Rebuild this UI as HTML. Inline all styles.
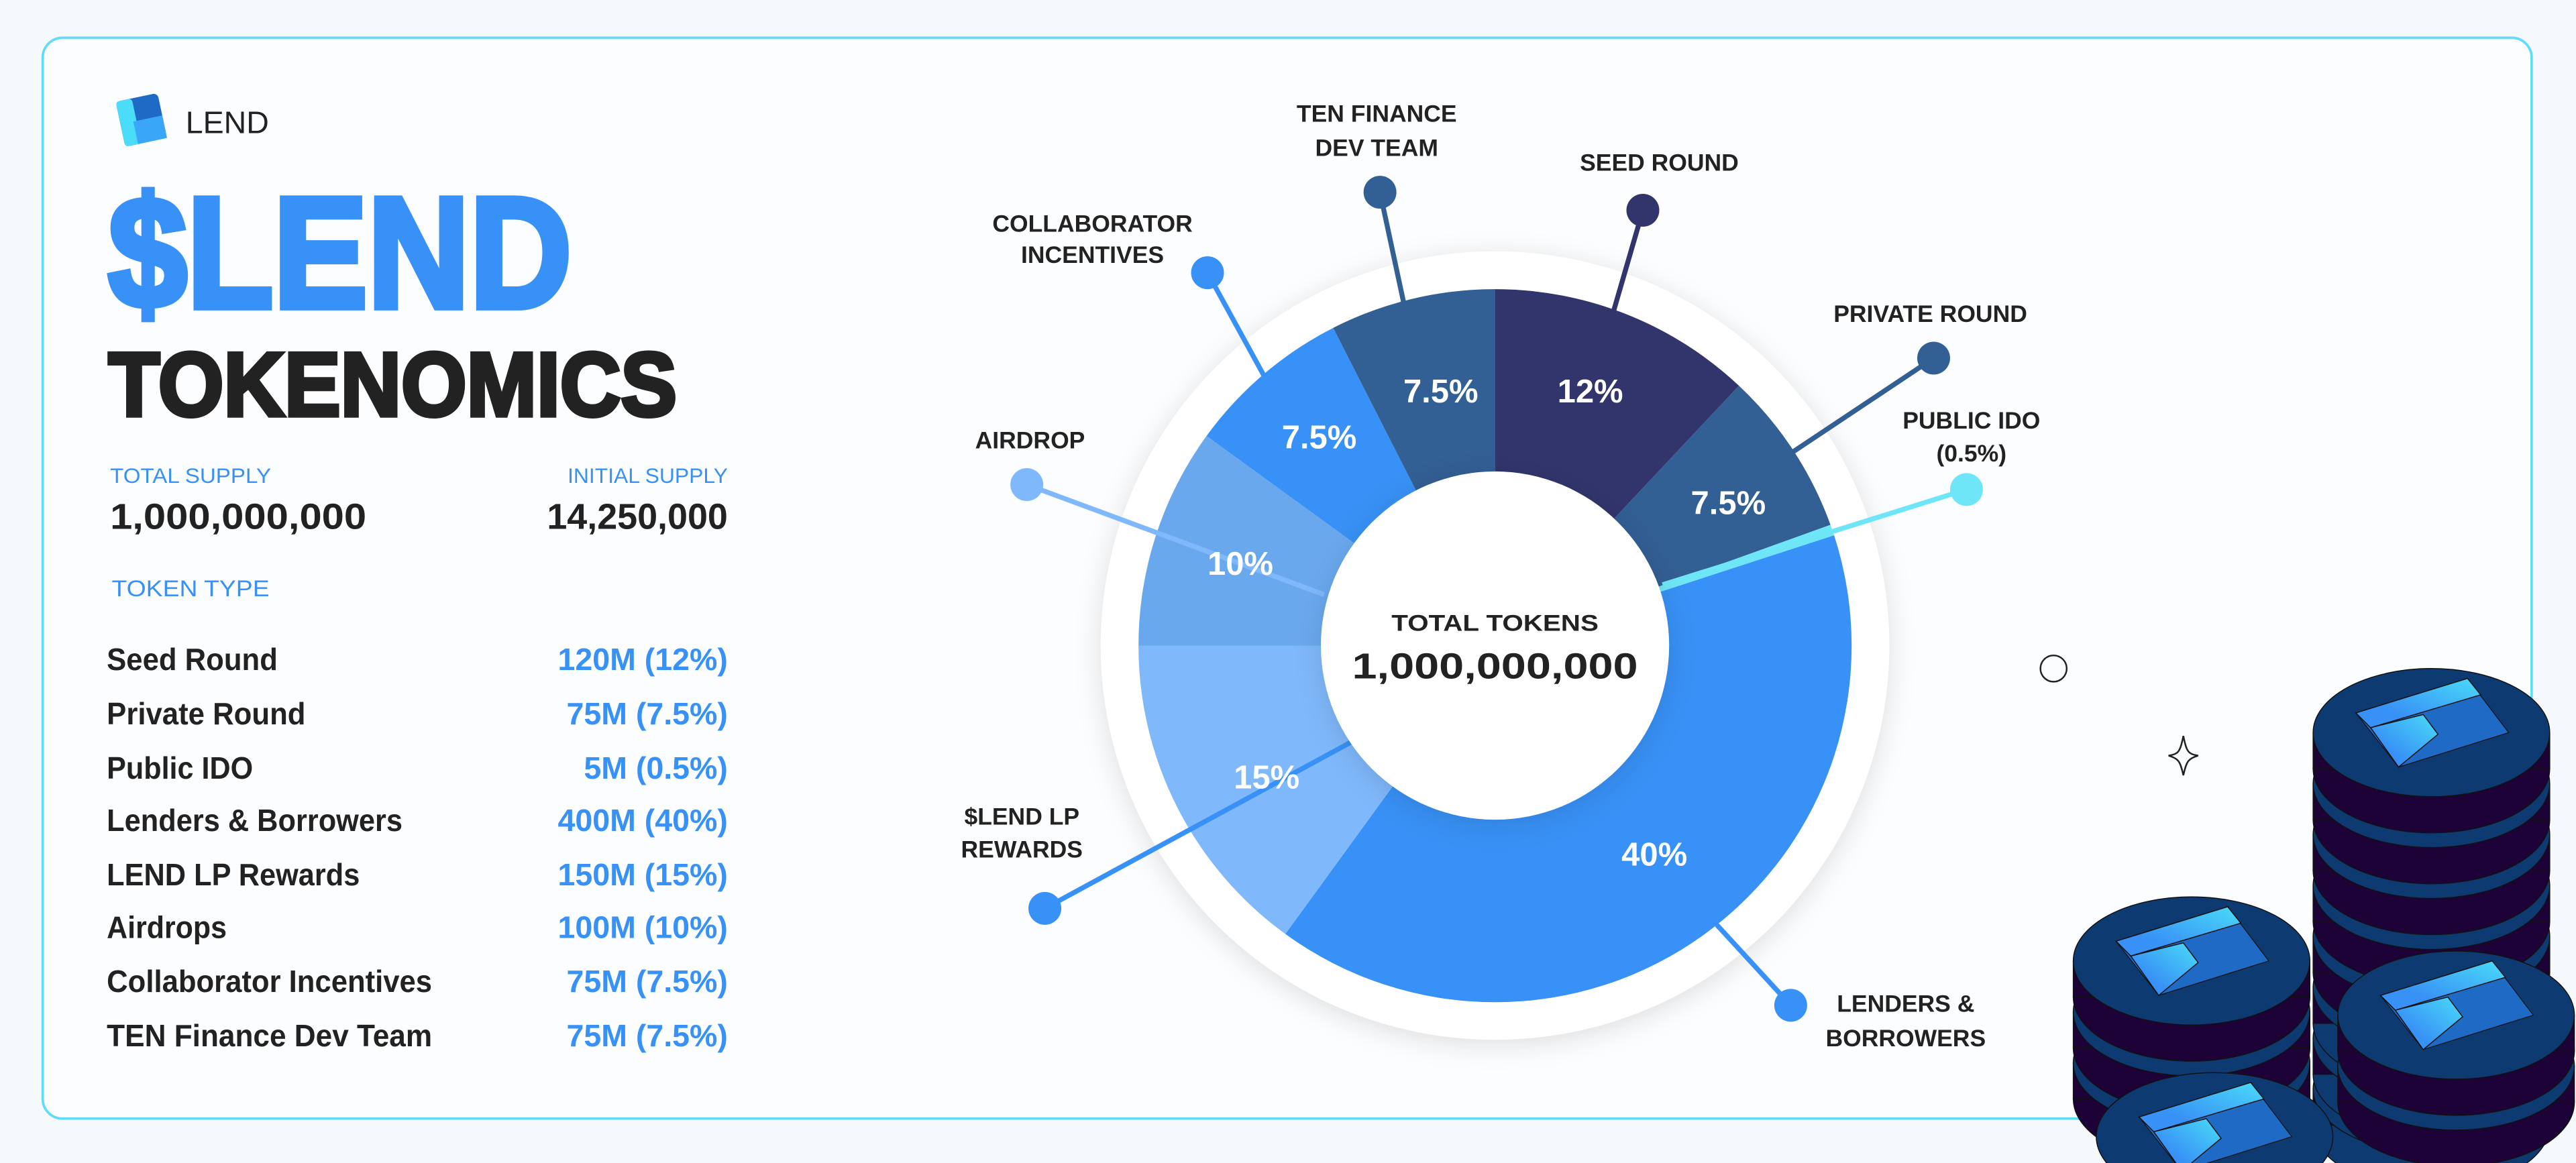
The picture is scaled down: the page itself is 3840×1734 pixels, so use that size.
<!DOCTYPE html>
<html><head><meta charset="utf-8"><style>
html,body{margin:0;padding:0;background:#f5f9fc;width:3840px;height:1734px;overflow:hidden;}
svg{display:block;}
text{font-family:"Liberation Sans",sans-serif;}
</style></head><body>
<svg width="3840" height="1734" viewBox="0 0 1568 708" xmlns="http://www.w3.org/2000/svg">
<defs>
<clipPath id="cp"><rect x="0" y="0" width="1568" height="708"/></clipPath>
<filter id="sh" x="-20%" y="-20%" width="140%" height="140%"><feDropShadow dx="0" dy="3" stdDeviation="8" flood-color="#000" flood-opacity="0.12"/></filter>
<linearGradient id="lg" x1="0" y1="1" x2="1" y2="0"><stop offset="0.3" stop-color="#3891f6"/><stop offset="1" stop-color="#4adcf8"/></linearGradient>
<g id="logo"><polygon points="-46,-12 22,-33 47,0 -20,21" fill="#1f6ac4" stroke="#111" stroke-width="0.5"/><polygon points="-46,-12 22,-33 30,-23 -37,-3" fill="url(#lg)"/><polygon points="-37,-3 -5,-11 4,1 -20,21" fill="url(#lg)"/></g>
</defs>
<rect width="1568" height="708" fill="#f5f9fc"/>
<rect x="26" y="23" width="1515" height="658" rx="12" fill="#fcfdfe" stroke="#5fdcf7" stroke-width="1.5"/>

<g transform="translate(70,60) rotate(-12)"><rect x="0" y="2" width="26" height="28" rx="3" fill="#1f6ac4"/><rect x="0" y="2" width="10" height="28" rx="2" fill="#4adcf8"/><rect x="8" y="16" width="18" height="14" fill="#3aa6f8"/></g>
<text x="113" y="81" font-size="19" fill="#222">LEND</text>
<text x="66" y="187" font-size="96" font-weight="bold" fill="#3891f6" stroke="#3891f6" stroke-width="4" textLength="282" lengthAdjust="spacingAndGlyphs">$LEND</text>
<text x="66" y="253" font-size="55" font-weight="bold" fill="#222" stroke="#222" stroke-width="2.5" textLength="346" lengthAdjust="spacingAndGlyphs">TOKENOMICS</text>
<text x="67" y="294" font-size="13" fill="#3891f6" textLength="98" lengthAdjust="spacingAndGlyphs">TOTAL SUPPLY</text>
<text x="443" y="294" font-size="13" fill="#3891f6" text-anchor="end">INITIAL SUPPLY</text>
<text x="67" y="322" font-size="22" font-weight="bold" fill="#222" textLength="156" lengthAdjust="spacingAndGlyphs">1,000,000,000</text>
<text x="443" y="322" font-size="22" font-weight="bold" fill="#222" text-anchor="end">14,250,000</text>
<text x="68" y="363" font-size="14" fill="#3891f6" textLength="96" lengthAdjust="spacingAndGlyphs">TOKEN TYPE</text>
<g font-size="19" font-weight="bold" fill="#222">
<text x="65" y="408" textLength="104" lengthAdjust="spacingAndGlyphs">Seed Round</text>
<text x="65" y="441" textLength="121" lengthAdjust="spacingAndGlyphs">Private Round</text>
<text x="65" y="474" textLength="89" lengthAdjust="spacingAndGlyphs">Public IDO</text>
<text x="65" y="506" textLength="180" lengthAdjust="spacingAndGlyphs">Lenders &amp; Borrowers</text>
<text x="65" y="539" textLength="154" lengthAdjust="spacingAndGlyphs">LEND LP Rewards</text>
<text x="65" y="571" textLength="73" lengthAdjust="spacingAndGlyphs">Airdrops</text>
<text x="65" y="604" textLength="198" lengthAdjust="spacingAndGlyphs">Collaborator Incentives</text>
<text x="65" y="637" textLength="198" lengthAdjust="spacingAndGlyphs">TEN Finance Dev Team</text>
</g>
<g font-size="19" font-weight="bold" fill="#3891f6" text-anchor="end">
<text x="443" y="408">120M (12%)</text>
<text x="443" y="441">75M (7.5%)</text>
<text x="443" y="474">5M (0.5%)</text>
<text x="443" y="506">400M (40%)</text>
<text x="443" y="539">150M (15%)</text>
<text x="443" y="571">100M (10%)</text>
<text x="443" y="604">75M (7.5%)</text>
<text x="443" y="637">75M (7.5%)</text>
</g>

<circle cx="910" cy="393" r="240" fill="#fff" filter="url(#sh)"/>
<path d="M910 393 L910 176 A217 217 0 0 1 1058.5 234.8 Z" fill="#32356b"/>
<path d="M910 393 L1058.5 234.8 A217 217 0 0 1 1114.2 319.5 Z" fill="#325f94"/>
<path d="M910 393 L1114.2 319.5 A217 217 0 0 1 1116.4 325.9 Z" fill="#6ee6f7"/>
<path d="M910 393 L1116.4 325.9 A217 217 0 0 1 782.4 568.6 Z" fill="#3891f6"/>
<path d="M910 393 L782.4 568.6 A217 217 0 0 1 693 393 Z" fill="#7fb8fb"/>
<path d="M910 393 L693 393 A217 217 0 0 1 734.4 265.4 Z" fill="#6aa8ee"/>
<path d="M910 393 L734.4 265.4 A217 217 0 0 1 811.5 199.6 Z" fill="#3891f6"/>
<path d="M910 393 L811.5 199.6 A217 217 0 0 1 910 176 Z" fill="#325f94"/>

<g stroke-width="3" fill="none">
<line x1="855" y1="187" x2="840" y2="117" stroke="#325f94"/>
<line x1="982" y1="190" x2="1000" y2="128" stroke="#32356b"/>
<line x1="792" y1="270" x2="735" y2="166" stroke="#3891f6"/>
<line x1="1090" y1="276" x2="1177" y2="218" stroke="#325f94"/>
<line x1="1012" y1="356" x2="1197" y2="298" stroke="#6ee6f7"/>
<line x1="806" y1="362" x2="625" y2="295" stroke="#7fb8fb"/>
<line x1="822" y1="452" x2="636" y2="553" stroke="#3891f6"/>
<line x1="1045" y1="563" x2="1090" y2="612" stroke="#3891f6"/>
</g>
<circle cx="910" cy="393" r="106" fill="#fff" filter="url(#sh)"/>
<circle cx="840" cy="117" r="10" fill="#325f94"/>
<circle cx="1000" cy="128" r="10" fill="#32356b"/>
<circle cx="735" cy="166" r="10" fill="#3891f6"/>
<circle cx="1177" cy="218" r="10" fill="#325f94"/>
<circle cx="1197" cy="298" r="10" fill="#6ee6f7"/>
<circle cx="625" cy="295" r="10" fill="#7fb8fb"/>
<circle cx="636" cy="553" r="10" fill="#3891f6"/>
<circle cx="1090" cy="612" r="10" fill="#3891f6"/>

<g font-size="20" font-weight="bold" fill="#fff" text-anchor="middle">
<text x="877" y="245">7.5%</text>
<text x="968" y="245">12%</text>
<text x="803" y="273">7.5%</text>
<text x="1052" y="313">7.5%</text>
<text x="755" y="350">10%</text>
<text x="771" y="480">15%</text>
<text x="1007" y="527">40%</text>
</g>
<text x="910" y="384" font-size="14" font-weight="bold" fill="#222" text-anchor="middle" textLength="126" lengthAdjust="spacingAndGlyphs">TOTAL TOKENS</text>
<text x="910" y="413" font-size="22" font-weight="bold" fill="#222" text-anchor="middle" textLength="174" lengthAdjust="spacingAndGlyphs">1,000,000,000</text>

<g font-size="14.5" font-weight="bold" fill="#222" text-anchor="middle">
<text x="838" y="74">TEN FINANCE</text><text x="838" y="95">DEV TEAM</text>
<text x="1010" y="104">SEED ROUND</text>
<text x="665" y="141">COLLABORATOR</text><text x="665" y="160">INCENTIVES</text>
<text x="1175" y="196">PRIVATE ROUND</text>
<text x="1200" y="261">PUBLIC IDO</text><text x="1200" y="281">(0.5%)</text>
<text x="627" y="273">AIRDROP</text>
<text x="622" y="502">$LEND LP</text><text x="622" y="522">REWARDS</text>
<text x="1160" y="616">LENDERS &amp;</text><text x="1160" y="637">BORROWERS</text>
</g>

<circle cx="1250" cy="407" r="8" fill="none" stroke="#222" stroke-width="1"/>
<path d="M1329 448 C1331 458 1332 459 1338 460 C1332 462 1331 463 1329 472 C1327 463 1326 462 1320 460 C1326 459 1327 458 1329 448 Z" fill="none" stroke="#222" stroke-width="1"/>

<g stroke="#111" stroke-width="0.6" clip-path="url(#cp)">
<g transform="translate(1480,0)">
<g><ellipse cx="0" cy="685" rx="72" ry="39" fill="#0e3a72"/><rect x="-72" y="663" width="144" height="22" fill="#1c0236"/><ellipse cx="0" cy="663" rx="72" ry="39" fill="#0e3a72"/></g>
<g><ellipse cx="0" cy="654" rx="72" ry="39" fill="#0e3a72"/><rect x="-72" y="632" width="144" height="22" fill="#1c0236"/><ellipse cx="0" cy="632" rx="72" ry="39" fill="#0e3a72"/></g>
<g><ellipse cx="0" cy="623" rx="72" ry="39" fill="#0e3a72"/><rect x="-72" y="601" width="144" height="22" fill="#1c0236"/><ellipse cx="0" cy="601" rx="72" ry="39" fill="#0e3a72"/></g>
<g><ellipse cx="0" cy="592" rx="72" ry="39" fill="#1c0236"/><rect x="-72" y="570" width="144" height="22" fill="#1c0236"/><ellipse cx="0" cy="570" rx="72" ry="39" fill="#0e3a72"/></g>
<g><ellipse cx="0" cy="561" rx="72" ry="39" fill="#1c0236"/><rect x="-72" y="539" width="144" height="22" fill="#1c0236"/><ellipse cx="0" cy="539" rx="72" ry="39" fill="#0e3a72"/></g>
<g><ellipse cx="0" cy="530" rx="72" ry="39" fill="#1c0236"/><rect x="-72" y="508" width="144" height="22" fill="#1c0236"/><ellipse cx="0" cy="508" rx="72" ry="39" fill="#0e3a72"/></g>
<g><ellipse cx="0" cy="499" rx="72" ry="39" fill="#1c0236"/><rect x="-72" y="477" width="144" height="22" fill="#1c0236"/><ellipse cx="0" cy="477" rx="72" ry="39" fill="#0e3a72"/></g>
<g><ellipse cx="0" cy="468" rx="72" ry="39" fill="#1c0236"/><rect x="-72" y="446" width="144" height="22" fill="#1c0236"/><ellipse cx="0" cy="446" rx="72" ry="39" fill="#0e3a72"/></g>
<use href="#logo" y="446"/>
</g>
<g transform="translate(1334,0)">
<g><ellipse cx="0" cy="669" rx="72" ry="39" fill="#1c0236"/><rect x="-72" y="647" width="144" height="22" fill="#1c0236"/><ellipse cx="0" cy="647" rx="72" ry="39" fill="#0e3a72"/></g>
<g><ellipse cx="0" cy="638" rx="72" ry="39" fill="#1c0236"/><rect x="-72" y="616" width="144" height="22" fill="#1c0236"/><ellipse cx="0" cy="616" rx="72" ry="39" fill="#0e3a72"/></g>
<g><ellipse cx="0" cy="607" rx="72" ry="39" fill="#1c0236"/><rect x="-72" y="585" width="144" height="22" fill="#1c0236"/><ellipse cx="0" cy="585" rx="72" ry="39" fill="#0e3a72"/></g>
<use href="#logo" y="585"/>
</g>
<g transform="translate(1495,0)">
<g><ellipse cx="0" cy="671" rx="72" ry="39" fill="#1c0236"/><rect x="-72" y="649" width="144" height="22" fill="#1c0236"/><ellipse cx="0" cy="649" rx="72" ry="39" fill="#0e3a72"/></g>
<g><ellipse cx="0" cy="640" rx="72" ry="39" fill="#1c0236"/><rect x="-72" y="618" width="144" height="22" fill="#1c0236"/><ellipse cx="0" cy="618" rx="72" ry="39" fill="#0e3a72"/></g>
<use href="#logo" y="618"/>
</g>
<g transform="translate(1348,0)">
<ellipse cx="0" cy="692" rx="72" ry="39" fill="#0e3a72"/>
<use href="#logo" y="692"/>
</g>
</g>
</svg>
</body></html>
